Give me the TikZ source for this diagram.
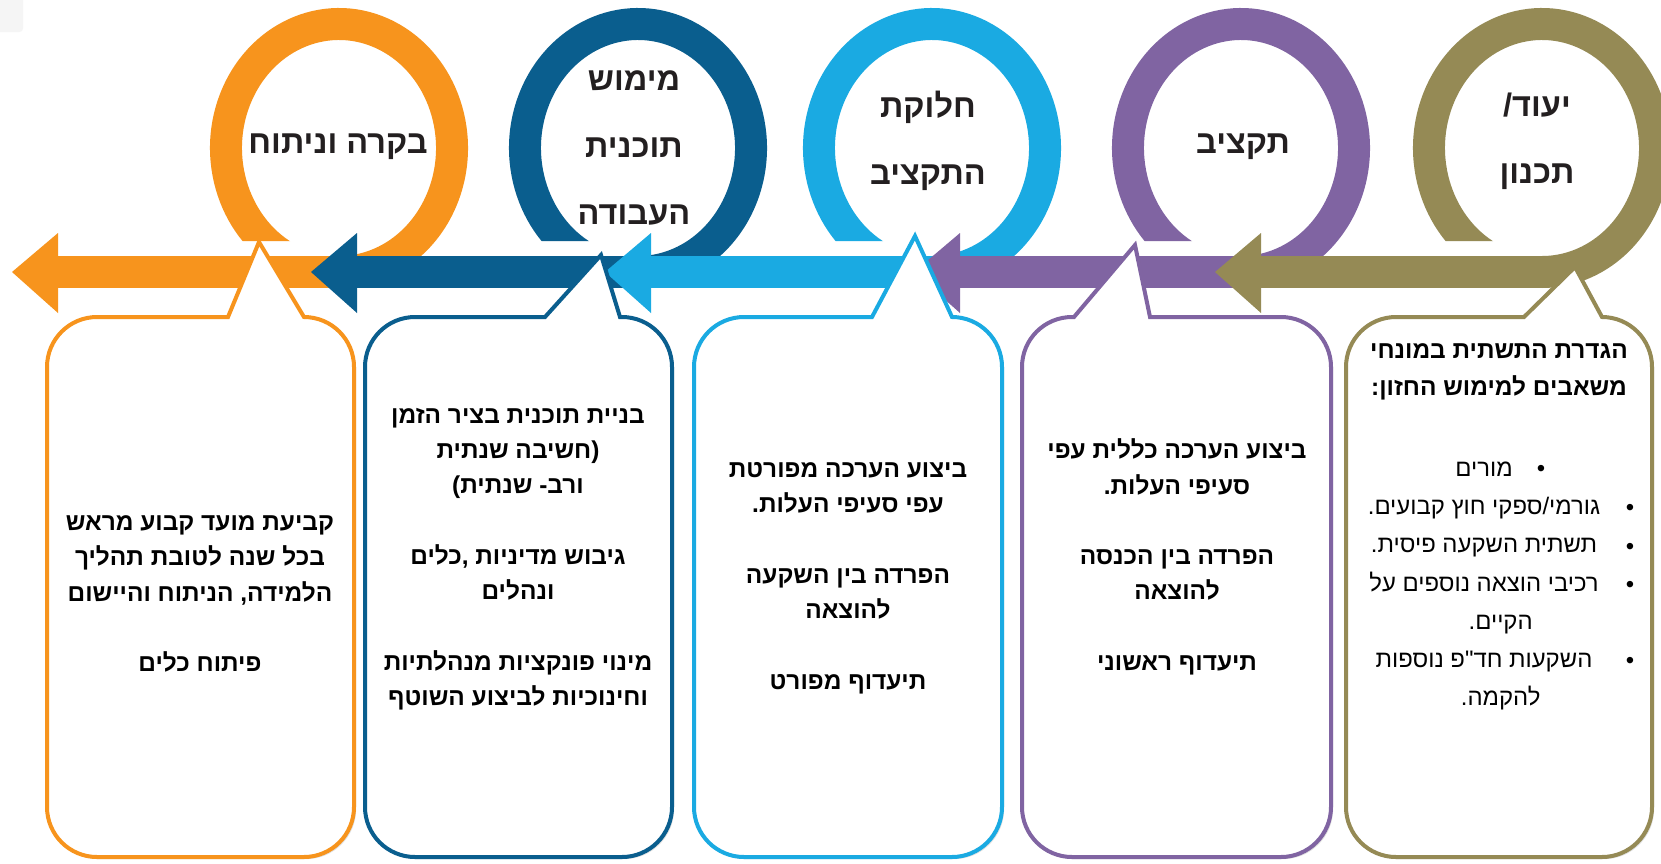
\documentclass[tikz,border=0pt]{standalone}
\usepackage{fontspec}
\usepackage{tikz}
\usetikzlibrary{shadows}
\TeXXeTstate=1
\newfontfamily\hebfont[Script=Hebrew]{Liberation Sans}
\newcommand{\heb}[1]{\beginR #1\endR}

\definecolor{clrorange}{HTML}{F7941D}
\definecolor{clrnavy}{HTML}{0A5E8E}
\definecolor{clrsky}{HTML}{1AAAE2}
\definecolor{clrpurple}{HTML}{8064A2}
\definecolor{clrolive}{HTML}{958A55}
\definecolor{titlegray}{HTML}{231F20}

\begin{document}
\begin{tikzpicture}
  [x=0.02cm, y=-0.02cm,
   loopring/.style={draw=#1, line width=0.64cm},
   shaftbar/.style={draw=#1, line width=0.64cm},
   bubble/.style={draw=#1, line width=0.08cm, fill=white,
     drop shadow={opacity=0.25, shadow xshift=1.2pt, shadow yshift=-1.2pt}}]

  \tikzstyle{ringtitle} = [font=\hebfont\bfseries\fontsize{18.5pt}{38pt}\selectfont,
                           text=titlegray, align=center]
  \tikzstyle{bubbletext} = [font=\hebfont\bfseries\fontsize{13.9pt}{20.1pt}\selectfont,
                            align=center]
  \tikzstyle{listtext} = [font=\hebfont\fontsize{13.6pt}{21.8pt}\selectfont, align=center]

  \fill[white] (0,0) rectangle (1661,863);
  \useasboundingbox (0,0) rectangle (1661,863);
  \fill[gray!8, rounded corners=2pt] (-5,-5) rectangle (23,32);

  \begin{scope}
    \clip (179,0) rectangle (499,241) (339,241) rectangle (499,300);
    \draw[loopring=clrorange] (339,148) ++(115:113 and 124)
      arc[start angle=115, end angle=450, x radius=113, y radius=124];
  \end{scope}
  \draw[shaftbar=clrorange] (341,272) -- (58,272);
  \fill[clrorange] (58,233) -- (12,272) -- (58,313) -- cycle;

  \begin{scope}
    \clip (478,0) rectangle (798,241) (638,241) rectangle (798,300);
    \draw[loopring=clrnavy] (638,148) ++(115:113 and 124)
      arc[start angle=115, end angle=450, x radius=113, y radius=124];
  \end{scope}
  \draw[shaftbar=clrnavy] (640,272) -- (357,272);
  \fill[clrnavy] (357,233) -- (311,272) -- (357,313) -- cycle;

  \begin{scope}
    \clip (772,0) rectangle (1092,241) (932,241) rectangle (1092,300);
    \draw[loopring=clrsky] (932,148) ++(115:113 and 124)
      arc[start angle=115, end angle=450, x radius=113, y radius=124];
  \end{scope}
  \draw[shaftbar=clrsky] (934,272) -- (651,272);
  \fill[clrsky] (651,233) -- (605,272) -- (651,313) -- cycle;

  \begin{scope}
    \clip (1081,0) rectangle (1401,241) (1241,241) rectangle (1401,300);
    \draw[loopring=clrpurple] (1241,148) ++(115:113 and 124)
      arc[start angle=115, end angle=450, x radius=113, y radius=124];
  \end{scope}
  \draw[shaftbar=clrpurple] (1243,272) -- (960,272);
  \fill[clrpurple] (960,233) -- (914,272) -- (960,313) -- cycle;

  \begin{scope}
    \clip (1382,0) rectangle (1702,241) (1542,241) rectangle (1702,300);
    \draw[loopring=clrolive] (1542,148) ++(115:113 and 124)
      arc[start angle=115, end angle=450, x radius=113, y radius=124];
  \end{scope}
  \draw[shaftbar=clrolive] (1544,272) -- (1261,272);
  \fill[clrolive] (1261,233) -- (1215,272) -- (1261,313) -- cycle;

  \draw[bubble=clrorange] (97,317) -- (228,317) -- (259,242) -- (304,317)
    arc[start angle=270, end angle=360, radius=50] -- (354,807)
    arc[start angle=0, end angle=90, radius=50] -- (97,857)
    arc[start angle=90, end angle=180, radius=50] -- (47,367)
    arc[start angle=180, end angle=270, radius=50] -- cycle;
  \draw[bubble=clrnavy] (415,317) -- (545,317) -- (601,255) -- (620,317) -- (622,317)
    arc[start angle=270, end angle=360, radius=50] -- (672,807)
    arc[start angle=0, end angle=90, radius=50] -- (415,857)
    arc[start angle=90, end angle=180, radius=50] -- (365,367)
    arc[start angle=180, end angle=270, radius=50] -- cycle;
  \draw[bubble=clrsky] (744,317) -- (872,317) -- (915,236) -- (952,317)
    arc[start angle=270, end angle=360, radius=50] -- (1002,807)
    arc[start angle=0, end angle=90, radius=50] -- (744,857)
    arc[start angle=90, end angle=180, radius=50] -- (694,367)
    arc[start angle=180, end angle=270, radius=50] -- cycle;
  \draw[bubble=clrpurple] (1072,317) -- (1074,317) -- (1135,245) -- (1150,317) -- (1281,317)
    arc[start angle=270, end angle=360, radius=50] -- (1331,807)
    arc[start angle=0, end angle=90, radius=50] -- (1072,857)
    arc[start angle=90, end angle=180, radius=50] -- (1022,367)
    arc[start angle=180, end angle=270, radius=50] -- cycle;
  \draw[bubble=clrolive] (1396,317) -- (1524,317) -- (1575,267) -- (1602,317)
    arc[start angle=270, end angle=360, radius=50] -- (1652,807)
    arc[start angle=0, end angle=90, radius=50] -- (1396,857)
    arc[start angle=90, end angle=180, radius=50] -- (1346,367)
    arc[start angle=180, end angle=270, radius=50] -- cycle;

  \node[ringtitle] (review)   at (338,147)  {\heb{בקרה וניתוח}};
  \node[ringtitle] (workplan) at (634,148)  {\heb{מימוש}\\ \heb{תוכנית}\\ \heb{העבודה}};
  \node[ringtitle] (split)    at (928,141)  {\heb{חלוקת}\\ \heb{התקציב}};
  \node[ringtitle] (budget)   at (1243,147) {\heb{תקציב}};
  \node[ringtitle] (planning) at (1537,141) {\heb{יעוד/}\\ \heb{תכנון}};

  \node[bubbletext] (reviewtext) at (200,594)
    {\heb{קביעת מועד קבוע מראש}\\ \heb{בכל שנה לטובת תהליך}\\
     \heb{הלמידה, הניתוח והיישום}\\[20.1pt] \heb{פיתוח כלים}};
  \node[bubbletext] (workplantext) at (518,559)
    {\heb{בניית תוכנית בציר הזמן}\\ \heb{(חשיבה שנתית}\\ \heb{ורב- שנתית)}\\[20.1pt]
     \heb{גיבוש מדיניות ,כלים}\\ \heb{ונהלים}\\[20.1pt]
     \heb{מינוי פונקציות מנהלתיות}\\ \heb{וחינוכיות לביצוע השוטף}};
  \node[bubbletext] (splittext) at (848,578)
    {\heb{ביצוע הערכה מפורטת}\\ \heb{עפי סעיפי העלות.}\\[20.1pt]
     \heb{הפרדה בין השקעה}\\ \heb{להוצאה}\\[20.1pt] \heb{תיעדוף מפורט}};
  \node[bubbletext] (budgettext) at (1177,557)
    {\heb{ביצוע הערכה כללית עפי}\\ \heb{סעיפי העלות.}\\[20.1pt]
     \heb{הפרדה בין הכנסה}\\ \heb{להוצאה}\\[20.1pt] \heb{תיעדוף ראשוני}};
  \node[bubbletext, font=\hebfont\bfseries\fontsize{13.9pt}{21pt}\selectfont]
    (planninghead) at (1499,372)
    {\heb{הגדרת התשתית במונחי}\\ \heb{משאבים למימוש החזון:}};
  \node[listtext] (planninglist) at (1484,586)
    {\heb{מורים}\\ \heb{גורמי/ספקי חוץ קבועים.}\\ \heb{תשתית השקעה פיסית.}\\
     \heb{רכיבי הוצאה נוספים על}\\ \hspace*{19pt}\heb{הקיים.}\\
     \heb{השקעות חד"פ נוספות}\\ \hspace*{19pt}\heb{להקמה.}};

  \node[listtext] (dot1) at (1541,471) {•};
  \node[listtext] (dot2) at (1630,510) {•};
  \node[listtext] (dot3) at (1630,549) {•};
  \node[listtext] (dot4) at (1630,587) {•};
  \node[listtext] (dot5) at (1630,663) {•};
\end{tikzpicture}
\end{document}
